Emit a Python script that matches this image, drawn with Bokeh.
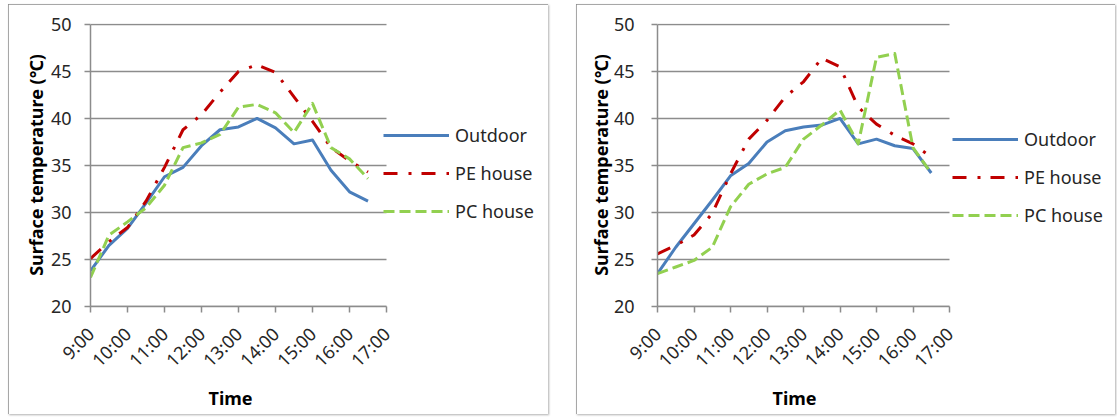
from math import pi
from bokeh.plotting import figure
from bokeh.models import FixedTicker, Legend, LegendItem, Range1d, Title
from bokeh.layouts import row
from bokeh.embed import file_html
from bokeh.resources import INLINE

# ---- data (half-hourly readings, 9:00 .. 16:30) ----
hours = [9.0, 9.5, 10.0, 10.5, 11.0, 11.5, 12.0, 12.5,
         13.0, 13.5, 14.0, 14.5, 15.0, 15.5, 16.0, 16.5]
tick_hours = [9, 10, 11, 12, 13, 14, 15, 16, 17]
tick_labels = ["9:00", "10:00", "11:00", "12:00", "13:00",
               "14:00", "15:00", "16:00", "17:00"]
y_ticks = [20, 25, 30, 35, 40, 45, 50]
series_names = ["Outdoor", "PE house", "PC house"]

left_outdoor = [23.8, 26.5, 28.3, 31.0, 33.8, 34.8, 37.1, 38.8,
                39.1, 40.0, 39.0, 37.3, 37.7, 34.5, 32.2, 31.2]
left_pe = [25.1, 26.9, 28.4, 31.2, 34.8, 38.8, 40.4, 42.8,
           45.0, 45.7, 44.9, 42.3, 39.7, 36.9, 35.5, 34.3]
left_pc = [23.1, 27.6, 29.0, 30.5, 32.9, 36.9, 37.4, 38.3,
           41.2, 41.5, 40.6, 38.5, 41.6, 36.9, 35.7, 33.6]

right_outdoor = [23.5, 26.3, 28.8, 31.3, 33.9, 35.2, 37.5, 38.7,
                 39.1, 39.3, 40.0, 37.3, 37.8, 37.1, 36.8, 34.2]
right_pe = [25.6, 26.5, 27.6, 29.9, 34.1, 37.8, 39.8, 42.3,
            43.9, 46.4, 45.5, 41.2, 39.4, 38.2, 37.3, 35.9]
right_pc = [23.5, 24.2, 24.9, 26.3, 30.6, 33.0, 34.1, 34.8,
            37.8, 39.3, 40.9, 37.3, 46.5, 46.9, 36.9, 34.2]

COLORS = ["#4a7ebb", "#c00000", "#92d050"]
DASHES = ["solid", "14 11 3 10", "11 5"]
FONT = "Noto Sans"
GRAY = "#8c8c8c"
X0, X1 = tick_hours[0], tick_hours[-1]


def make_chart(series, width, min_left, min_bottom, data_w,
               ylab_standoff, ytitle_standoff, leg_x, leg_y, time_offset):
    min_right = 2
    frame_w = width - min_left - min_right
    x_end = X0 + (X1 - X0) * frame_w / data_w   # room for the legend inside the frame
    p = figure(width=width, height=410,
               min_border_left=min_left, min_border_right=min_right,
               min_border_top=19, min_border_bottom=min_bottom,
               x_range=Range1d(X0, x_end), y_range=Range1d(20, 50.1),
               output_backend="svg", toolbar_location=None)
    p.outline_line_color = None
    p.xgrid.visible = False
    p.ygrid.visible = False
    # horizontal gridlines only across the time span
    p.segment(x0=[X0] * len(y_ticks), x1=[X1] * len(y_ticks),
              y0=y_ticks, y1=y_ticks, line_color=GRAY, line_width=1.5)

    p.yaxis.ticker = FixedTicker(ticks=y_ticks)
    p.yaxis.bounds = (20, 50)
    p.xaxis.ticker = FixedTicker(ticks=tick_hours)
    p.xaxis.bounds = (X0, X1)
    p.xaxis.major_label_overrides = {h: lab for h, lab in zip(tick_hours, tick_labels)}
    p.xaxis.major_label_orientation = pi / 4
    for ax in (p.xaxis[0], p.yaxis[0]):
        ax.axis_line_color = GRAY
        ax.axis_line_width = 1.5
        ax.major_tick_line_color = GRAY
        ax.major_tick_line_width = 1.5
        ax.major_tick_in = 0
        ax.major_tick_out = 6
        ax.minor_tick_line_color = None
        ax.major_label_text_font = FONT
        ax.major_label_text_font_size = "18px"
        ax.major_label_text_color = "#262626"
        ax.axis_label_text_font = FONT
        ax.axis_label_text_font_size = "18px"
        ax.axis_label_text_font_style = "bold"
        ax.axis_label_text_color = "#000000"
    p.yaxis.major_label_standoff = ylab_standoff
    p.xaxis.major_label_standoff = 18
    p.yaxis.axis_label = "Surface temperature (℃)"
    p.yaxis.axis_label_standoff = ytitle_standoff

    # x-axis title, centred under the time span (not the whole frame)
    t = Title(text="Time", align="left", offset=time_offset, standoff=0,
              text_font=FONT, text_font_size="18px", text_font_style="bold",
              text_color="#000000")
    p.add_layout(t, "below")

    items = []
    for name, vals, col, dash in zip(series_names, series, COLORS, DASHES):
        r = p.line(hours, vals, line_color=col, line_width=3, line_dash=dash,
                   line_join="round")
        items.append(LegendItem(label=name, renderers=[r]))

    leg = Legend(items=items, location=(leg_x, leg_y), orientation="vertical",
                 border_line_color=None, background_fill_alpha=0,
                 padding=0, margin=0, spacing=14, glyph_width=66,
                 glyph_height=20, label_height=20, label_standoff=6,
                 label_text_font=FONT, label_text_font_size="18px",
                 label_text_color="#262626")
    p.add_layout(leg)
    p.styles = {"outline": "1px solid #8a8a8a", "outline-offset": "-1px",
                "box-shadow": "1px 1px 2px #b0b0b0"}
    return p


p1 = make_chart([left_outdoor, left_pe, left_pc], 540, 82, 101, 296, 13, 0, 293, 83, 118)
p2 = make_chart([right_outdoor, right_pe, right_pc], 539, 81, 108, 292, 17, -2, 295, 79, 115)

layout = row(p1, p2, spacing=28)
layout.margin = (4, 0, 0, 8)
open("out.html", "w").write(file_html(layout, INLINE))
